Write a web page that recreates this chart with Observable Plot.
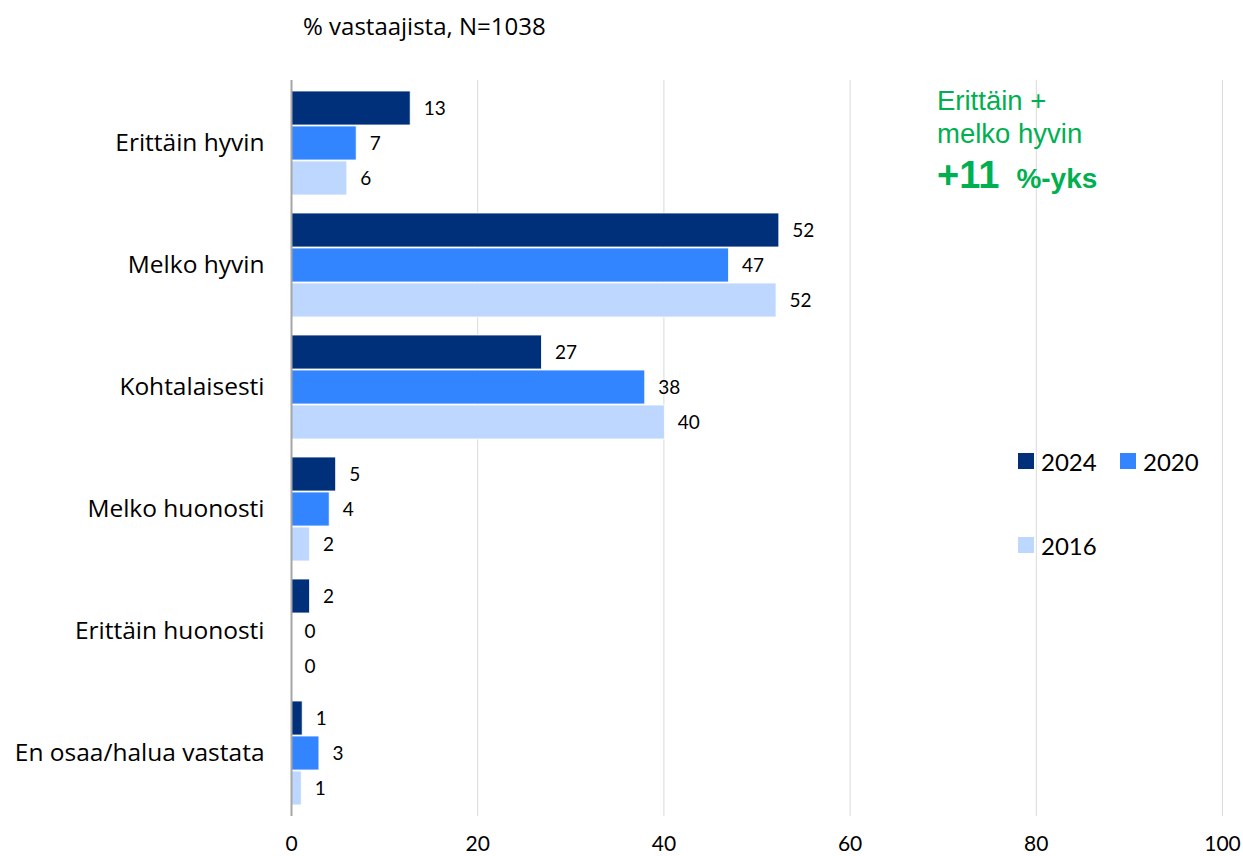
<!DOCTYPE html>
<html>
<head>
<meta charset="utf-8">
<script src="https://cdn.jsdelivr.net/npm/d3@7"></script>
<script src="https://cdn.jsdelivr.net/npm/@observablehq/plot@0.6"></script>
<style>
  body { margin: 0; background: #fff; }
  #wrap { position: relative; width: 1243px; height: 856px; font-family: Lato, "Open Sans", sans-serif; color: #000; }
  #title { position: absolute; left: 303px; top: 9px; font-size: 24px; font-family: "Open Sans", sans-serif; white-space: nowrap; }
  .ann { position: absolute; left: 937px; font-family: "Liberation Sans", Arial, sans-serif; color: #00b050; white-space: nowrap; }
  .leg { position: absolute; font-size: 24px; white-space: nowrap; display: flex; align-items: center; }
  .leg span.sw { display: inline-block; width: 16px; height: 16px; margin-right: 7px; }
</style>
</head>
<body>
<div id="wrap">
  <div id="chart"></div>
  <div id="title">% vastaajista, N=1038</div>
  <div class="ann" style="top:85px; font-size:27.5px;">Erittäin +</div>
  <div class="ann" style="top:118px; font-size:27.5px;">melko hyvin</div>
  <div class="ann" style="top:154px; font-weight:bold;"><span style="font-size:38px;">+11</span><span style="font-size:28px; margin-left:17px;">%-yks</span></div>
  <div id="legend"></div>
</div>
<script>
const categories = ["Erittäin hyvin", "Melko hyvin", "Kohtalaisesti", "Melko huonosti", "Erittäin huonosti", "En osaa/halua vastata"];
const years = ["2024", "2020", "2016"];
const v2024 = [12.8, 52.4, 26.9, 4.8, 2.0, 1.2];
const v2020 = [7.0, 47.0, 38.0, 4.1, 0, 3.0];
const v2016 = [6.0, 52.1, 40.1, 2.0, 0, 1.1];
const xTicks = [0, 20, 40, 60, 80, 100];
const colors = ["#00307a", "#3385ff", "#bdd7fe"];

const series = [v2024, v2020, v2016];
const data = [];
years.forEach((yr, i) => categories.forEach((c, j) => data.push({cat: c, year: yr, value: series[i][j], idx: i})));

const bandH = 105;
const barH = bandH / 3;

const marks = [
  Plot.gridX(xTicks.filter(t => t > 0), {stroke: "#d9d9d9", strokeOpacity: 1, strokeWidth: 1})
];
years.forEach((yr, i) => {
  const d = data.filter(r => r.year === yr);
  marks.push(Plot.barX(d, {
    x: "value", y: "cat", fill: colors[i],
    insetTop: i * barH, insetBottom: (2 - i) * barH,
    stroke: "white", strokeWidth: 0.8
  }));
  marks.push(Plot.text(d, {
    x: "value", y: "cat", text: r => d3.format(".0f")(r.value),
    dx: 13, dy: (i - 1) * barH, textAnchor: "start", fontSize: 19, fill: "#000"
  }));
});
marks.push(Plot.ruleX([0], {stroke: "#a6a6a6", strokeWidth: 2}));
marks.push(Plot.axisY({tickSize: 0, tickPadding: 27, fontSize: 24.5, fill: "#000", fontFamily: "'Open Sans', sans-serif"}));
marks.push(Plot.axisX({ticks: xTicks, tickSize: 0, tickPadding: 20, fontSize: 21, fill: "#000"}));

const chart = Plot.plot({
  width: 1243,
  height: 856,
  marginLeft: 291,
  marginRight: 21,
  marginTop: 80,
  marginBottom: 40,
  style: {fontFamily: "Lato, 'Open Sans', sans-serif", background: "white", color: "#000"},
  x: {domain: [0, 100], label: null},
  y: {domain: categories, paddingInner: 0.1436, paddingOuter: 0.0734, label: null},
  marks
});
document.getElementById("chart").appendChild(chart);

const legPos = [[1018, 461], [1120, 461], [1018, 545]];
const leg = document.getElementById("legend");
years.forEach((yr, i) => {
  const el = document.createElement("div");
  el.className = "leg";
  el.style.left = legPos[i][0] + "px";
  el.style.top = (legPos[i][1] - 16) + "px";
  el.style.height = "32px";
  el.innerHTML = `<span class="sw" style="background:${colors[i]}"></span>${yr}`;
  leg.appendChild(el);
});
</script>
</body>
</html>
